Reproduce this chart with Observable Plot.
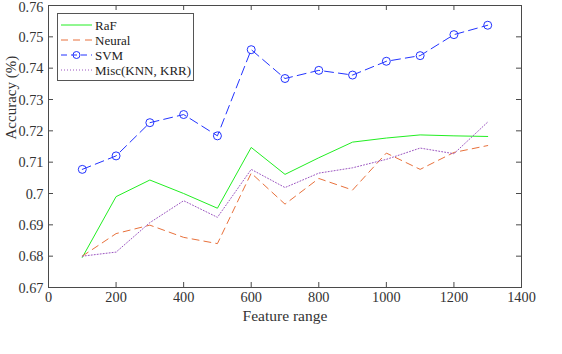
<!DOCTYPE html>
<html><head><meta charset="utf-8">
<script src="https://cdn.jsdelivr.net/npm/d3@7"></script>
<script src="https://cdn.jsdelivr.net/npm/@observablehq/plot@0.6"></script>
<style>
html,body{margin:0;padding:0;background:#fff;}
#wrap{position:relative;width:562px;height:354px;overflow:hidden;font-family:"Liberation Serif","DejaVu Serif",serif;}
#legend{position:absolute;left:57px;top:13px;width:135px;height:66px;border:1px solid #555;background:#fff;}
#legend svg{position:absolute;left:0;top:0;overflow:visible;}
</style>
</head><body>
<div id="wrap"></div>
<script>
const features = [100,200,300,400,500,600,700,800,900,1000,1100,1200,1300];
const raf    = [0.6796,0.6990,0.7043,0.7000,0.6953,0.7147,0.7061,0.7114,0.7164,0.7177,0.7187,0.7184,0.7182];
const neural = [0.6800,0.6872,0.6899,0.6860,0.6840,0.7065,0.6966,0.7048,0.7011,0.7129,0.7077,0.7131,0.7153];
const svm    = [0.7077,0.7120,0.7226,0.7252,0.7184,0.7459,0.7367,0.7393,0.7378,0.7422,0.7440,0.7507,0.7537];
const misc   = [0.6800,0.6813,0.6907,0.6977,0.6924,0.7077,0.7019,0.7065,0.7082,0.7109,0.7145,0.7127,0.7228];
const seriesNames = ["RaF","Neural","SVM","Misc(KNN, KRR)"];
const xTicks = [0,200,400,600,800,1000,1200,1400];
const yTicks = [0.67,0.68,0.69,0.70,0.71,0.72,0.73,0.74,0.75,0.76];
const xLabel = "Feature range";
const yLabel = "Accuracy (%)";

const colors = {"RaF":"#22ee22","Neural":"#e8713c","SVM":"#2233ff","Misc(KNN, KRR)":"#9b55c0"};
const dashes = {"RaF":null,"Neural":"7,5","SVM":"9,5","Misc(KNN, KRR)":"1,2"};

const allSeries = [raf, neural, svm, misc];
const rows = [];
seriesNames.forEach((s,i)=>features.forEach((f,j)=>rows.push({series:s,x:f,y:allSeries[i][j]})));

const W=562,H=354,mL=48,mR=41,mT=5,mB=67;
const pw=W-mL-mR, ph=H-mT-mB, tk=5;
const axisColor="#4a4a4a";
const font='"Liberation Serif","DejaVu Serif",serif';
const yMax = yTicks[yTicks.length-1];

const marks = [];
seriesNames.forEach(s=>{
  marks.push(Plot.line(rows.filter(r=>r.series===s),{x:"x",y:"y",stroke:colors[s],strokeWidth:1,strokeDasharray:dashes[s]||undefined}));
});
marks.push(Plot.dot(rows.filter(r=>r.series==="SVM"),{x:"x",y:"y",r:4,stroke:colors["SVM"],strokeWidth:1,fill:"none"}));
// inward ticks on all four sides
marks.push(Plot.ruleX(xTicks,{x:d=>d,stroke:axisColor,insetTop:ph-tk}));
marks.push(Plot.ruleX(xTicks,{x:d=>d,stroke:axisColor,insetBottom:ph-tk}));
marks.push(Plot.ruleY(yTicks,{y:d=>d,stroke:axisColor,insetRight:pw-tk}));
marks.push(Plot.ruleY(yTicks,{y:d=>d,stroke:axisColor,insetLeft:pw-tk}));
marks.push(Plot.frame({stroke:axisColor}));
// tick labels
marks.push(Plot.text(xTicks,{x:d=>d,frameAnchor:"bottom",dy:14,text:d=>String(d),fill:"#333",fontSize:14.3,fontFamily:font}));
marks.push(Plot.text(yTicks.filter(d=>d!==yMax),{y:d=>d,frameAnchor:"left",dx:-5,dy:0.5,textAnchor:"end",text:d=>String(+d.toFixed(2)),fill:"#333",fontSize:14.3,fontFamily:font}));
marks.push(Plot.text([yMax],{y:d=>d,frameAnchor:"left",dx:-5,dy:-3.5,lineAnchor:"top",textAnchor:"end",text:d=>String(+d.toFixed(2)),fill:"#333",fontSize:14.3,fontFamily:font}));
marks.push(Plot.text([xLabel],{frameAnchor:"bottom",dy:33,text:d=>d,fill:"#333",fontSize:15.5,fontFamily:font}));
marks.push(Plot.text([yLabel],{frameAnchor:"left",dx:-37,dy:-7,rotate:-90,text:d=>d,fill:"#333",fontSize:15,fontFamily:font}));

const chart = Plot.plot({
  width:W,height:H,marginLeft:mL,marginRight:mR,marginTop:mT,marginBottom:mB,
  x:{domain:[0,1400],axis:null},
  y:{domain:[0.67,0.76],axis:null},
  style:{background:"#fff",fontFamily:font,overflow:"visible"},
  marks
});
const wrap=document.getElementById("wrap");
wrap.appendChild(chart);

// legend
const leg=document.createElement("div");leg.id="legend";
const ns="http://www.w3.org/2000/svg";
const svg=document.createElementNS(ns,"svg");svg.setAttribute("width","135");svg.setAttribute("height","66");
const rowY=[11,26,41,56];
seriesNames.forEach((s,i)=>{
  const l=document.createElementNS(ns,"line");
  l.setAttribute("x1","3");l.setAttribute("x2","34");l.setAttribute("y1",rowY[i]);l.setAttribute("y2",rowY[i]);
  l.setAttribute("stroke",colors[s]);l.setAttribute("stroke-width","1");
  if(dashes[s]) l.setAttribute("stroke-dasharray",s==="SVM"?"6,4":dashes[s]);
  svg.appendChild(l);
  if(s==="SVM"){const c=document.createElementNS(ns,"circle");c.setAttribute("cx","18.5");c.setAttribute("cy",rowY[i]);c.setAttribute("r","3.5");c.setAttribute("fill","none");c.setAttribute("stroke",colors[s]);svg.appendChild(c);}
  const t=document.createElementNS(ns,"text");
  t.setAttribute("x","37");t.setAttribute("y",rowY[i]);t.setAttribute("dy","0.35em");
  t.setAttribute("font-size","13");t.setAttribute("font-family",font);t.setAttribute("fill","#222");
  t.textContent=s;svg.appendChild(t);
});
leg.appendChild(svg);wrap.appendChild(leg);
</script>
</body></html>
